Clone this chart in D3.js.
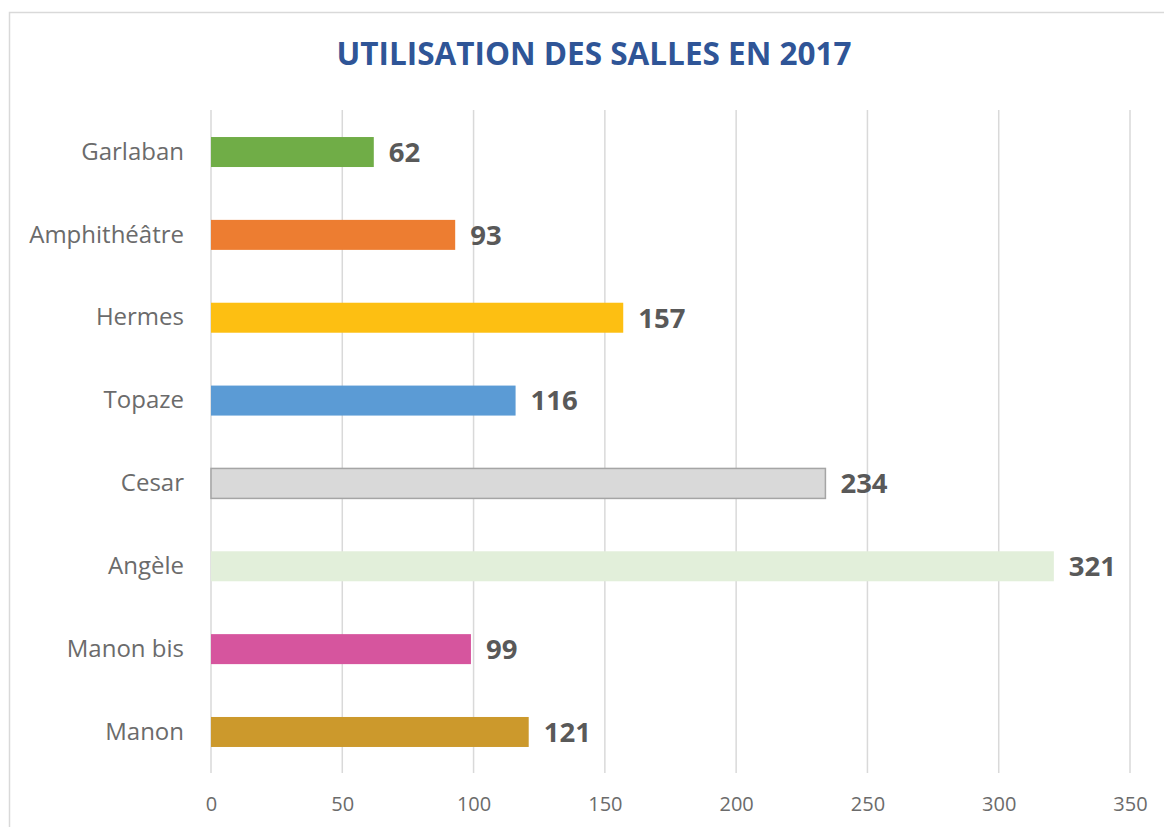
<!DOCTYPE html>
<html>
<head>
<meta charset="utf-8">
<script src="https://cdn.jsdelivr.net/npm/d3@7"></script>
<style>
  html, body { margin: 0; padding: 0; background: #fff; }
  svg { display: block; }
</style>
</head>
<body>
<svg id="chart" width="1164" height="827"></svg>
<script>
const title = "UTILISATION DES SALLES EN 2017";
const categories = ["Garlaban", "Amphithéâtre", "Hermes", "Topaze", "Cesar", "Angèle", "Manon bis", "Manon"];
const values = [62, 93, 157, 116, 234, 321, 99, 121];
const colors = ["#70ad47", "#ed7d31", "#fdbf12", "#5b9bd5", "#d9d9d9", "#e2efda", "#d6559e", "#cc992c"];
const strokes = ["none", "none", "none", "none", "#a5a5a5", "none", "none", "none"];
const xTicks = [0, 50, 100, 150, 200, 250, 300, 350];

const svg = d3.select("#chart");
const font = "'Open Sans', 'DejaVu Sans', sans-serif";

// chart frame
svg.append("rect")
  .attr("x", 9.5).attr("y", 12.5)
  .attr("width", 1200).attr("height", 900)
  .attr("fill", "#fff").attr("stroke", "#d9d9d9").attr("stroke-width", 1.5);

const x = d3.scaleLinear().domain([0, 350]).range([211, 1130]);
const y = d3.scaleBand().domain(categories).range([110.6, 773.4])
  .paddingInner(0.638).paddingOuter(0.319);

// gridlines
svg.append("g").selectAll("line").data(xTicks).join("line")
  .attr("x1", d => x(d)).attr("x2", d => x(d))
  .attr("y1", 110).attr("y2", 773)
  .attr("stroke", "#d9d9d9").attr("stroke-width", 1.5);

// x axis tick labels
const xAxis = d3.axisBottom(x).tickValues(xTicks).tickSize(0).tickPadding(0);
const gx = svg.append("g").attr("transform", "translate(0,804)").call(xAxis);
gx.select(".domain").remove();
gx.selectAll("text")
  .attr("dy", "0.35em").attr("y", 0)
  .attr("font-family", font).attr("font-size", 20).attr("fill", "#6b6b6b");

// y axis labels
const yAxis = d3.axisLeft(y).tickSize(0).tickPadding(0);
const gy = svg.append("g").attr("transform", "translate(184,0)").call(yAxis);
gy.select(".domain").remove();
gy.selectAll("text")
  .attr("font-family", font).attr("font-size", 24).attr("fill", "#6b6b6b");

// bars
svg.append("g").selectAll("rect").data(categories).join("rect")
  .attr("x", x(0))
  .attr("y", d => y(d))
  .attr("width", (d, i) => x(values[i]) - x(0))
  .attr("height", y.bandwidth())
  .attr("fill", (d, i) => colors[i])
  .attr("stroke", (d, i) => strokes[i])
  .attr("stroke-width", 1.5);

// value labels
svg.append("g").selectAll("text").data(categories).join("text")
  .attr("x", (d, i) => x(values[i]) + 15)
  .attr("y", d => y(d) + y.bandwidth() / 2)
  .attr("dy", "0.36em")
  .attr("font-family", font).attr("font-size", 27.5).attr("font-weight", "bold")
  .attr("fill", "#595959")
  .text((d, i) => values[i]);

// title
svg.append("text")
  .attr("x", 594).attr("y", 54)
  .attr("dy", "0.36em")
  .attr("text-anchor", "middle")
  .attr("font-family", font).attr("font-size", 31.5).attr("font-weight", "bold")
  .attr("fill", "#2f5597")
  .text(title);
</script>
</body>
</html>
